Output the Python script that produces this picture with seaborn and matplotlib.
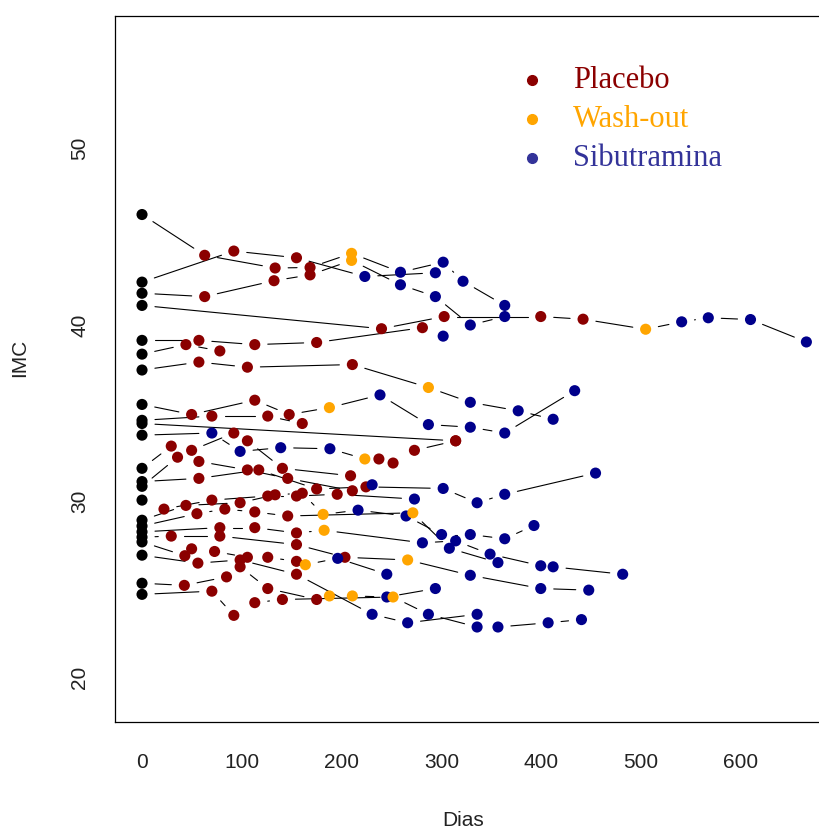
import numpy as np
import pandas as pd
import seaborn as sns
import matplotlib
matplotlib.use('Agg')
import matplotlib.pyplot as plt

# one list per subject: visit day, IMC and phase (B baseline, P placebo, W wash-out, S sibutramina)
dias = [
    [0, 62.8, 133.4, 168.4, 210, 259, 301.8, 321.7, 363.5],
    [0, 92, 154.8, 223.3, 294],
    [0, 62.8, 132.3, 168.4, 210, 259, 294, 329, 363.5],
    [0, 240, 302.8, 399.6, 442, 504.7, 540.8, 567.5, 609.8, 665.8],
    [0, 57, 113, 175, 281, 301.8],
    [0, 44, 78],
    [0, 57, 105.6, 210.8, 287, 329, 377, 412],
    [0, 49.7, 113, 147.5, 187.8, 238.5, 287, 329, 363.5, 433.6],
    [0, 70, 126, 160.6],
    [0, 314.3],
    [0, 70, 98.3, 139, 188.3, 223.3, 237.4, 251.6, 273, 314.3],
    [0, 29.3, 49.7, 92, 105.6, 140.7, 209],
    [0, 57, 117, 175, 224.4, 301.8, 335.8, 363.5, 454.5],
    [0, 35.6, 57, 105.6, 146, 210.8, 230.6],
    [0, 22, 70, 126, 154.8, 195.6, 273],
    [0, 44, 98.3, 133.4, 160.6, 181.5, 216.5, 264.6, 300.2, 329, 363.5, 392.8],
    [0, 55, 83, 113, 146, 271.4, 308, 356.7],
    [0, 78, 113, 154.8, 182.5, 281, 314.3, 348.8, 399.6, 412, 481.7],
    [0, 29.3, 78, 154.8, 203.4, 266.2, 329, 399.6, 447.7],
    [0, 42.9, 49.7, 72.7, 105.6, 126, 154.8, 163.7, 196.1, 245.3],
    [0, 56, 98.3, 154.8, 230.6, 266.2, 335.8],
    [0, 42.4, 84.7, 98.3, 126, 175, 187.8, 210.8, 245.3, 294],
    [0, 70, 92, 113, 140.7, 251.6, 287, 335.8, 356.7, 407, 440.4],
]
imc = [
    [46.25, 43.94, 43.22, 43.25, 44.05, 42.98, 43.55, 42.47, 41.1],
    [42.42, 44.18, 43.8, 42.74, 42.95],
    [41.79, 41.6, 42.5, 42.83, 43.65, 42.27, 41.6, 39.99, 40.47],
    [41.1, 39.78, 40.47, 40.47, 40.32, 39.75, 40.17, 40.4, 40.3, 39.03],
    [39.12, 39.12, 38.88, 39.0, 39.84, 39.36],
    [38.34, 38.88, 38.52],
    [37.44, 37.89, 37.6, 37.75, 36.45, 35.61, 35.13, 34.65],
    [35.49, 34.92, 35.73, 34.92, 35.31, 36.03, 34.35, 34.2, 33.87, 36.27],
    [34.59, 34.83, 34.83, 34.41],
    [34.41, 33.43],
    [33.75, 33.87, 32.83, 33.04, 32.98, 32.4, 32.4, 32.17, 32.89, 33.43],
    [31.87, 33.13, 32.89, 33.87, 33.43, 31.87, 31.45],
    [31.12, 31.3, 31.78, 30.7, 30.82, 30.73, 29.92, 30.4, 31.6],
    [30.85, 32.5, 32.26, 31.78, 31.3, 30.6, 30.94],
    [30.07, 29.56, 30.07, 30.3, 30.3, 30.4, 30.13],
    [28.93, 29.77, 29.92, 30.37, 30.46, 29.26, 29.5, 29.17, 28.12, 28.12, 27.88, 28.63],
    [28.6, 29.3, 29.56, 29.4, 29.17, 29.35, 27.34, 26.53],
    [28.27, 28.51, 28.51, 28.21, 28.36, 27.65, 27.76, 27.01, 26.35, 26.29, 25.87],
    [27.97, 28.03, 28.03, 27.55, 26.83, 26.68, 25.81, 25.06, 24.97],
    [27.7, 26.92, 27.31, 27.16, 26.83, 26.83, 26.6, 26.41, 26.77, 25.87],
    [26.95, 26.5, 26.68, 25.87, 23.6, 23.12, 23.6],
    [25.36, 25.24, 25.72, 26.29, 25.06, 24.44, 24.64, 24.64, 24.58, 25.06],
    [24.73, 24.91, 23.54, 24.26, 24.44, 24.58, 23.6, 22.88, 22.88, 23.12, 23.3],
]
fase = [
    'BPPPWSSSS', 'BPPSS', 'BPPPWSSSS', 'BPPPPWSSSS', 'BPPPPS', 'BPP',
    'BPPPWSSS', 'BPPPWSSSSS', 'BPPP', 'BP', 'BSSSSWPPPP', 'BPPPPPP',
    'BPPPPSSSS', 'BPPPPPS', 'BPPPPPS', 'BPPPPWSSSSSS', 'BPPPPWSS',
    'BPPPWSSSSSS', 'BPPPPWSSS', 'BPPPPPPWSS', 'BPPPSSS', 'BPPPPPWWSS',
    'BPPPPWSSSSS',
]

grupos = ['Placebo', 'Wash-out', 'Sibutramina']
cores = {'B': 'black', 'P': '#8B0000', 'W': '#FFA500', 'S': '#00008B'}
cores_leg = ['#8B0000', '#FFA500', '#333399']

rows = []
for i, (d, v, f) in enumerate(zip(dias, imc, fase)):
    for x, y, c in zip(d, v, f):
        rows.append((i, x, y, c))
df = pd.DataFrame(rows, columns=['sujeito', 'dia', 'imc', 'fase'])

sns.set_style('white')
plt.rcParams['font.family'] = ['Liberation Sans', 'DejaVu Sans']

fig = plt.figure(figsize=(8.19, 8.31), dpi=100)
ax = fig.add_axes([0.141, 0.1312, 0.876, 0.8496])
ax.set_xlim(-26.6, 692.4)
ax.set_ylim(17.5, 57.5)

# lines with a gap around each point, like R's type="b"
gap = 13
for d, v in zip(dias, imc):
    pts = ax.transData.transform(np.column_stack([d, v]))
    for (x0, y0), (x1, y1) in zip(pts[:-1], pts[1:]):
        L = np.hypot(x1 - x0, y1 - y0)
        if L <= 2 * gap:
            continue
        ux, uy = (x1 - x0) / L, (y1 - y0) / L
        seg = np.array([[x0 + ux * gap, y0 + uy * gap], [x1 - ux * gap, y1 - uy * gap]])
        seg = ax.transData.inverted().transform(seg)
        ax.plot(seg[:, 0], seg[:, 1], color='black', lw=0.8, zorder=1)

sns.scatterplot(data=df, x='dia', y='imc', hue='fase', palette=cores, s=64,
                edgecolor='none', legend=False, ax=ax, zorder=3)

ax.set_xticks([0, 100, 200, 300, 400, 500, 600])
ax.set_yticks([20, 30, 40, 50])
ax.tick_params(direction='out', length=9, width=0.8, labelsize=15,
               colors='black', labelcolor='#222222')
ax.tick_params(axis='x', pad=13)
ax.tick_params(axis='y', pad=10)
plt.setp(ax.get_yticklabels(), rotation=90, va='center')
ax.set_xlabel('')
ax.set_ylabel('')
for s in ax.spines.values():
    s.set_color('black')
    s.set_linewidth(0.9)

fig.text(463 / 819, 1 - 820 / 831, 'Dias', ha='center', va='center', fontsize=15, color='#222222')
fig.text(20 / 819, 1 - 358 / 831, 'IMC', ha='center', va='center', rotation=90, fontsize=15, color='#222222')

# legend
for k, (nome, cor) in enumerate(zip(grupos, cores_leg)):
    yy = 1 - (80 + 39 * k) / 831
    fig.lines.append(plt.Line2D([532 / 819], [yy], marker='o', markersize=7, color=cor,
                                linestyle='none', transform=fig.transFigure))
    fig.text(573 / 819, 1 - (88 + 39 * k) / 831, nome, ha='left', va='baseline',
             fontsize=22, color=cor, family='Liberation Serif')

fig.savefig('out.png', dpi=100)
